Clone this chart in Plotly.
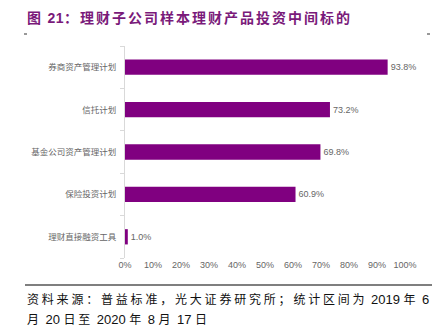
import re
import plotly.graph_objects as go

categories = ["券商资产管理计划", "信托计划", "基金公司资产管理计划", "保险投资计划", "理财直接融资工具"]
values = [93.8, 73.2, 69.8, 60.9, 1.0]
tick_vals = [0, 10, 20, 30, 40, 50, 60, 70, 80, 90, 100]
tick_text = ["0%", "10%", "20%", "30%", "40%", "50%", "60%", "70%", "80%", "90%", "100%"]
title_text = "图 21：理财子公司样本理财产品投资中间标的"
note_lines = ["资料来源：普益标准，光大证券研究所；统计区间为 2019 年 6", "月 20 日至 2020 年 8 月 17 日"]

W, H = 434, 330
L, R, T, B = 125, 29, 46, 72

fig = go.Figure()
fig.add_trace(go.Bar(
    y=categories, x=values, orientation="h",
    marker=dict(color="#800080", line=dict(width=0)),
    text=[f"{v:.1f}%" for v in values], textposition="outside",
    textfont=dict(family="Liberation Sans, Arial", size=9, color="#666666"),
    cliponaxis=False, width=0.36,
))

fig.update_layout(
    width=W, height=H,
    margin=dict(l=L, r=R, t=T, b=B),
    paper_bgcolor="white", plot_bgcolor="white",
    showlegend=False,
    font=dict(family="Noto Sans CJK SC", size=9, color="#666666"),
    xaxis=dict(range=[0, 100], tickvals=tick_vals, ticktext=tick_text,
               showgrid=False, zeroline=False, showline=False,
               tickfont=dict(family="Liberation Sans, Arial", size=9, color="#666666"),
               ticks="", fixedrange=True),
    yaxis=dict(categoryorder="array", categoryarray=categories[::-1],
               showgrid=False, zeroline=False, showline=True, linecolor="#d9d9d9", linewidth=1,
               ticks="outside", ticklen=4, tickcolor="#d9d9d9", tickson="boundaries",
               tickfont=dict(family="Noto Sans CJK SC", size=8.5, color="#666666"),
               ticklabelstandoff=6),
)

def px_x(x):
    return (x - L) / (W - L - R)

def px_y(y):
    return (H - B - y) / (H - T - B)

def spaced(s, cjk_sp, other_sp, other_size=None):
    out = []
    size = f"font-size:{other_size}px;" if other_size else ""
    for run in re.findall(r"[\u3000-\u9fff\uff00-\uffef]+|[^\u3000-\u9fff\uff00-\uffef]+", s):
        if re.match(r"[\u3000-\u9fff\uff00-\uffef]", run):
            out.append(f'<span style="letter-spacing:{cjk_sp}px">{run}</span>')
        else:
            out.append(f'<span style="font-family:Liberation Sans;{size}letter-spacing:{other_sp}px">{run}</span>')
    return "".join(out)

fig.add_annotation(x=px_x(25), y=px_y(17), xref="paper", yref="paper", xanchor="left", yanchor="middle",
                   text="<b>" + spaced(title_text, 2, 0.5) + "</b>", showarrow=False,
                   font=dict(family="Noto Sans CJK SC", size=14, color="#7a1a7a"))

fig.add_shape(type="line", xref="paper", yref="paper", x0=px_x(24), x1=px_x(27), y0=px_y(34), y1=px_y(34),
              line=dict(color="#333333", width=1))
fig.add_shape(type="line", xref="paper", yref="paper", x0=px_x(427), x1=px_x(430), y0=px_y(34), y1=px_y(34),
              line=dict(color="#333333", width=1))
fig.add_shape(type="line", xref="paper", yref="paper", x0=px_x(25), x1=px_x(432), y0=px_y(285), y1=px_y(285),
              line=dict(color="#555555", width=1.5))
fig.add_annotation(x=px_x(25), y=px_y(298), xref="paper", yref="paper", xanchor="left", yanchor="middle",
                   text=spaced(note_lines[0], 2.8, 0, 13), showarrow=False,
                   font=dict(family="Noto Sans CJK SC", size=12, color="#111111"))
fig.add_annotation(x=px_x(25), y=px_y(318), xref="paper", yref="paper", xanchor="left", yanchor="middle",
                   text=spaced(note_lines[1], 2.8, 0, 13), showarrow=False,
                   font=dict(family="Noto Sans CJK SC", size=12, color="#111111"))

fig.write_html("out.html")
